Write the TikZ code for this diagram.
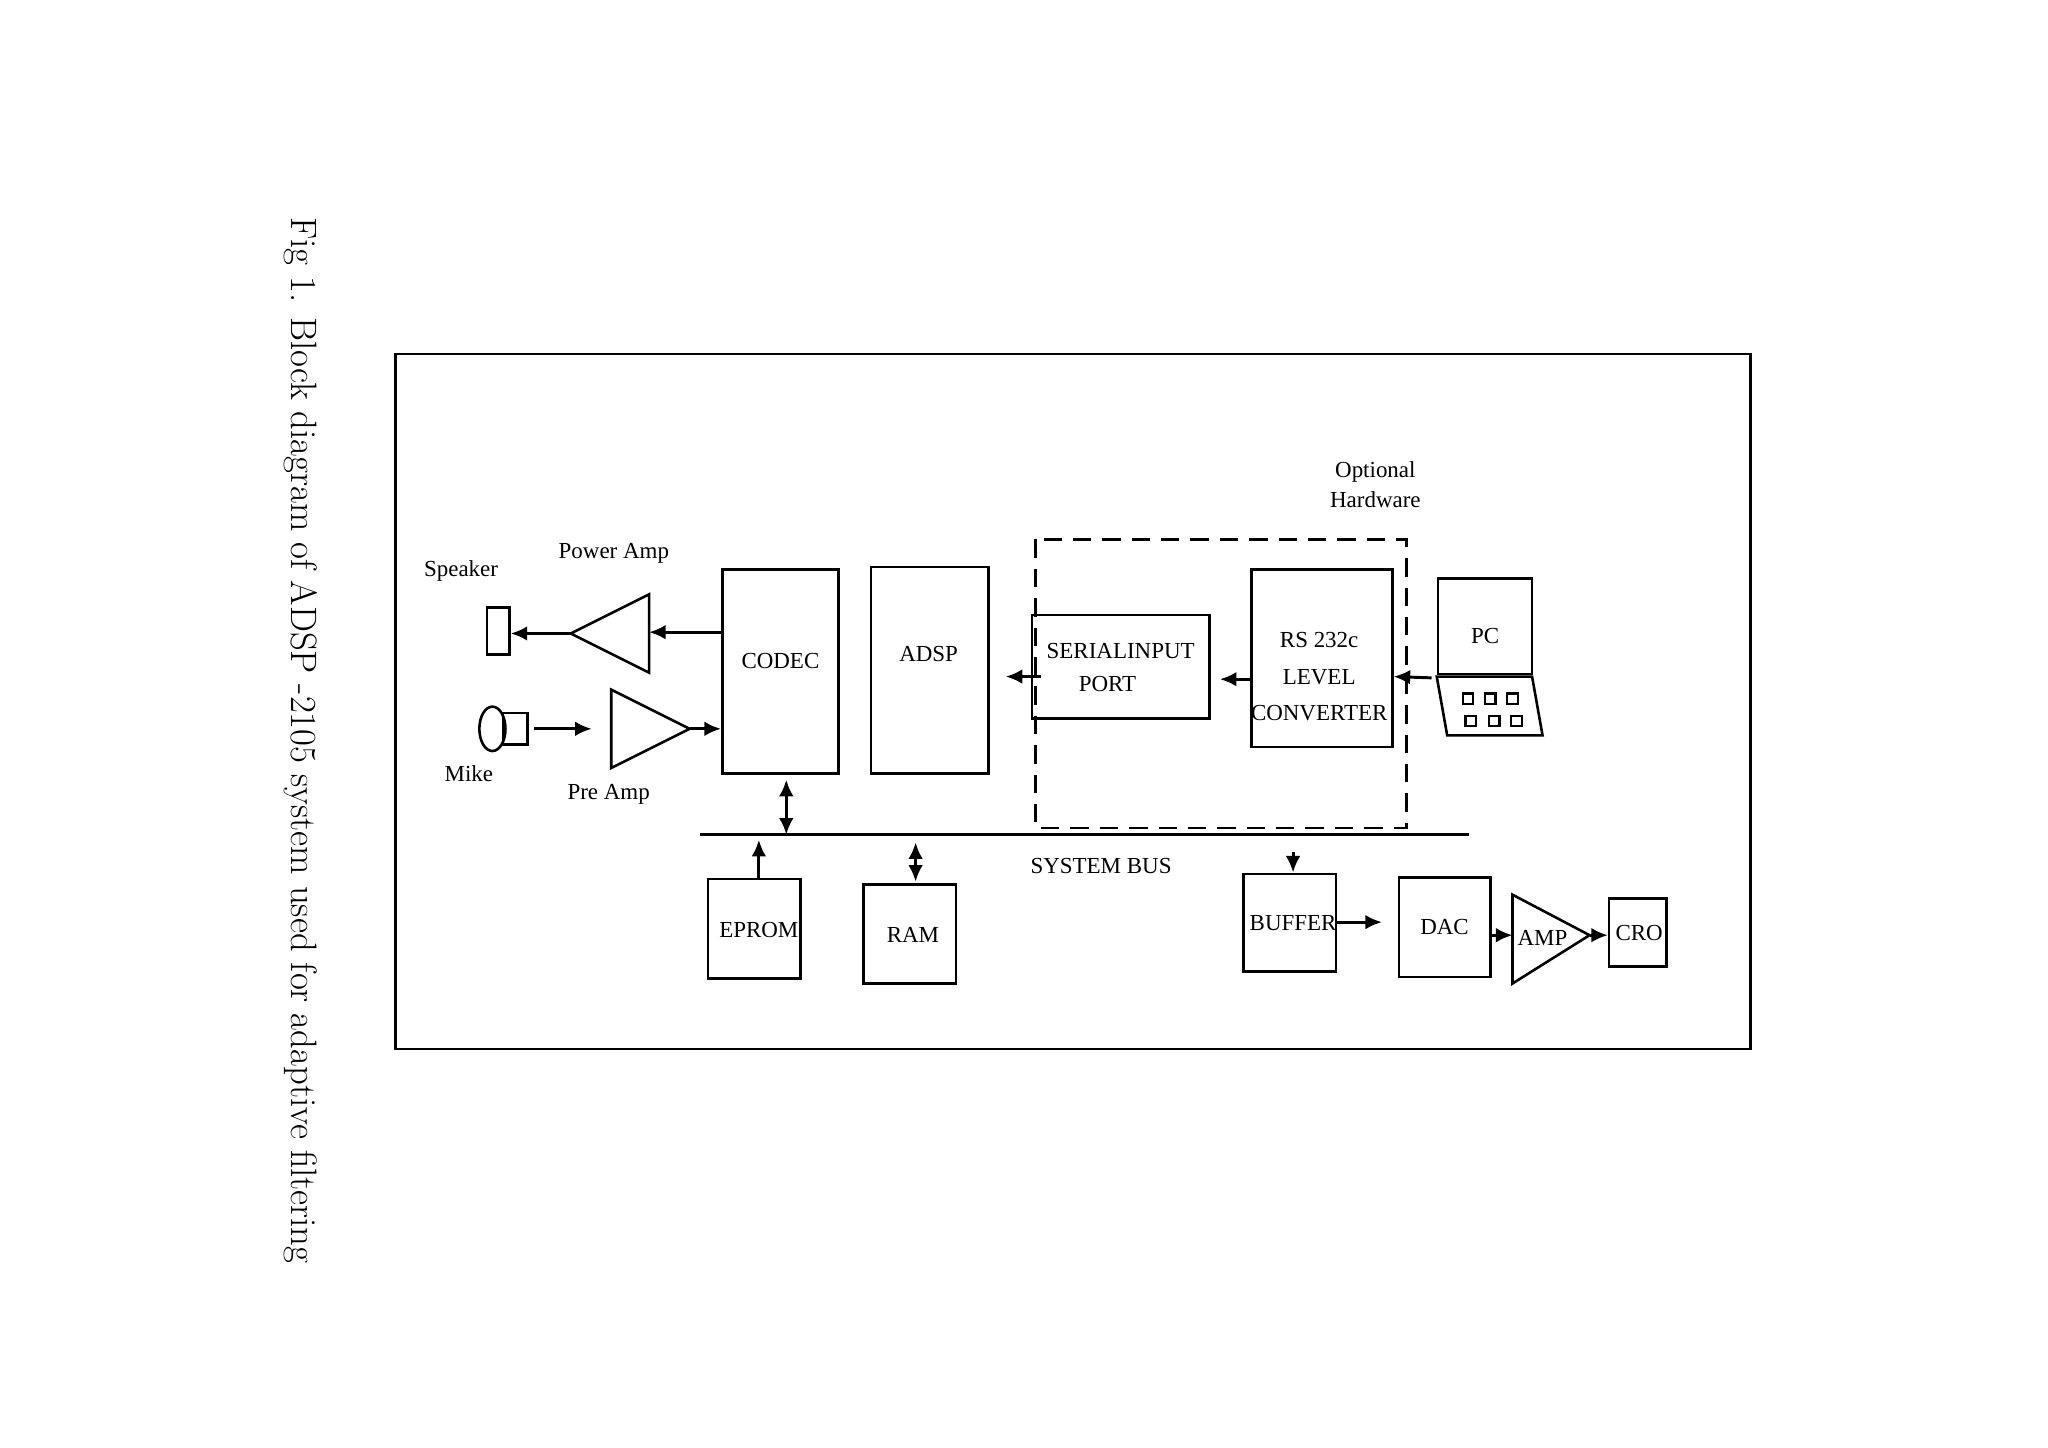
\documentclass[tikz,border=0pt]{standalone}
\usepackage{fontspec}
\setmainfont{Liberation Serif}
\newfontfamily\capfont{TeX Gyre Heros}
\usetikzlibrary{arrows.meta,shapes.geometric}
\begin{document}
\begin{tikzpicture}[x=0.025cm,y=-0.025cm,
  blk/.style={draw,line width=1.4pt,inner sep=0pt},
  lbl/.style={font=\fontsize{12.5}{14}\selectfont,inner sep=0pt},
  ar/.style={line width=1.6pt,-{Latex[length=9pt,width=8pt]}},
  ar2/.style={line width=1.6pt,{Latex[length=9pt,width=8pt]}-{Latex[length=9pt,width=8pt]}},
  tri/.style={line width=1.4pt}]
\useasboundingbox (0,0) rectangle (1568,1108.6);
\node[rotate=-90,font=\fontfamily{lmr}\fontsize{20}{24}\selectfont] (cap) at (230,567) {Fig 1. Block diagram of ADSP -2105 system used for adaptive filtering};
\draw[line width=1.4pt] (303,271) rectangle (1340,803);
% speaker and power amp
\node[blk,minimum width=17*0.025cm,minimum height=36*0.025cm] (spk) at (381.5,483) {};
\node[lbl] (spkl) at (353,437) {Speaker};
\coordinate (patip) at (437,485);
\draw[tri] (patip) -- (497,455) -- (497,515) -- cycle;
\node[lbl] (pal) at (470,424) {Power Amp};
% mike and pre amp
\draw[line width=1.4pt] (377,558) ellipse (10 and 17);
\node[blk,minimum width=19*0.025cm,minimum height=24*0.025cm] (mk) at (394.5,558) {};
\node[lbl] (mkl) at (359,592) {Mike};
\coordinate (prebase) at (468,558);
\coordinate (pretip) at (528,558);
\draw[tri] (468,528) -- (pretip) -- (468,588) -- cycle;
\node[lbl] (prl) at (466,608) {Pre Amp};
% main blocks
\node[blk,minimum width=89*0.025cm,minimum height=156*0.025cm] (codec) at (597.5,514) {};
\node[lbl] at (597.5,506) {CODEC};
\node[blk,minimum width=90*0.025cm,minimum height=158*0.025cm] (adsp) at (712,513) {};
\node[lbl] at (711,501) {ADSP};
\draw[line width=1.5pt,dash pattern=on 10pt off 6pt] (793,413) rectangle (1077,634);
\node[lbl,align=center] (opt) at (1053,371) {Optional\\[2pt]Hardware};
\node[blk,minimum width=136*0.025cm,minimum height=79*0.025cm] (sip) at (858,510.5) {};
\node[lbl,align=left] at (858,511) {SERIALINPUT\\[4pt]\hspace*{1.4em}PORT};
\node[blk,minimum width=108*0.025cm,minimum height=136*0.025cm] (rs) at (1012,504) {};
\node[lbl,align=center] at (1010,518) {RS 232c\\[6pt]LEVEL\\[6pt]CONVERTER};
% PC
\node[blk,minimum width=72*0.025cm,minimum height=73*0.025cm] (pc) at (1137,479.5) {};
\node[lbl] at (1137,487) {PC};
\draw[line width=1.4pt] (1100,518) -- (1173,518) -- (1181,563) -- (1108,563) -- cycle;
\foreach \kx in {1124,1141,1158} \draw[line width=1.2pt] (\kx-4,531) rectangle (\kx+4,539);
\foreach \kx in {1126,1144,1161} \draw[line width=1.2pt] (\kx-4,548) rectangle (\kx+4,556);
% bus
\coordinate (busL) at (536,639);
\coordinate (busR) at (1125,639);
\draw[line width=1.6pt] (busL) -- (busR);
\node[lbl] (busl) at (843,663) {SYSTEM BUS};
\node[blk,minimum width=71*0.025cm,minimum height=76*0.025cm] (eprom) at (577.5,711) {};
\node[lbl] at (581,712) {EPROM};
\node[blk,minimum width=71*0.025cm,minimum height=76*0.025cm] (ram) at (696.5,715) {};
\node[lbl] at (699,716) {RAM};
\node[blk,minimum width=71*0.025cm,minimum height=75*0.025cm] (buf) at (987.5,706.5) {};
\node[lbl] at (990,707) {BUFFER};
\node[blk,minimum width=70*0.025cm,minimum height=76*0.025cm] (dac) at (1106,710) {};
\node[lbl] at (1106,710) {DAC};
\coordinate (ampbase) at (1158,716);
\coordinate (amptip) at (1217,716);
\draw[tri] (1158,685) -- (amptip) -- (1158,753) -- cycle;
\node[lbl] (ampl) at (1181,718) {AMP};
\node[blk,minimum width=44*0.025cm,minimum height=52*0.025cm] (cro) at (1254,714) {};
\node[lbl] at (1255,714) {CRO};
% connectors
\draw[ar] (codec.west|-0,484) -- (497,484);
\draw[ar] (patip) -- (spk.east|-patip);
\draw[ar] (mk.east) ++(4,0) -- (453,558);
\draw[ar] (pretip) -- (codec.west|-pretip);
\draw[ar] (797,518) -- (770,518);
\draw[ar] (rs.west|-0,520) -- (934,520);
\draw[ar] (pc.south west) ++(-4,2) -- (rs.east|-0,518);
\draw[ar2] (602,597) -- (602,639);
\draw[ar] (eprom.north-|581,0) -- (581,643);
\draw[ar2] (701,645) -- (701,675);
\draw[ar] (990,652) -- (buf.north-|990,0);
\draw[ar] (buf.east|-0,706) -- (1058,706);
\draw[ar] (dac.east|-0,716) -- (ampbase);
\draw[ar] (amptip) -- (cro.west|-amptip);
\end{tikzpicture}
\end{document}
